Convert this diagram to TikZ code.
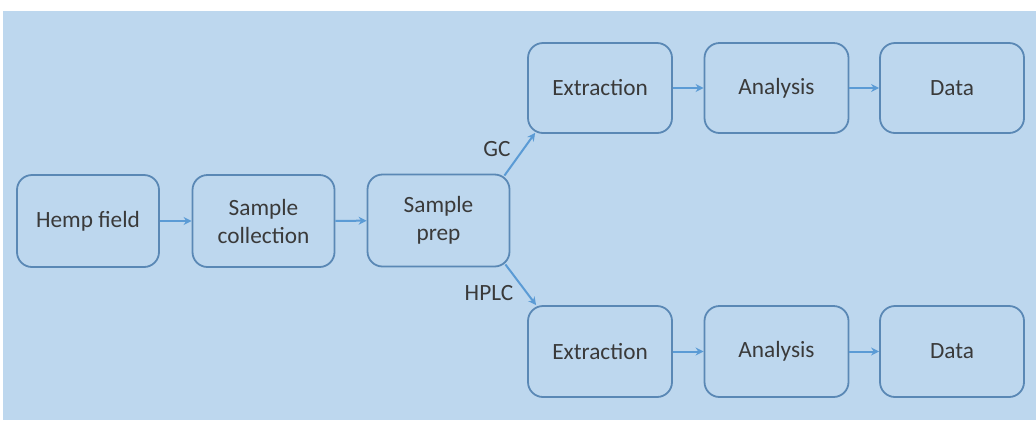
\documentclass[tikz,border=0pt]{standalone}
\usepackage{fontspec}
\setmainfont{Carlito}
\usetikzlibrary{arrows.meta}
\definecolor{bgblue}{HTML}{BDD7EE}
\definecolor{boxline}{HTML}{5A88B5}
\definecolor{arrowblue}{HTML}{5B9BD5}
\definecolor{txt}{HTML}{3A3A3A}
\begin{document}
\begin{tikzpicture}[x=0.5pt,y=-0.5pt,
  stepbox/.style={draw=boxline, line width=0.9pt, rounded corners=7.5pt, minimum width=71pt, minimum height=46pt, inner sep=0pt, align=center, text=txt, font=\fontsize{11.65pt}{14pt}\selectfont},
  flow/.style={draw=arrowblue, line width=1pt, -{Stealth[length=4pt,width=4pt]}},
  lbl/.style={text=txt, font=\fontsize{11.65pt}{14pt}\selectfont, inner sep=0pt}]
\useasboundingbox (0,0) rectangle (1036,420);
\fill[bgblue] (3,11) rectangle (1036,420);
\node[stepbox] (hemp) at (88,221) {Hemp field};
\node[stepbox] (coll) at (263.5,221) {Sample\\collection};
\node[stepbox] (prep) at (438.5,220.5) {Sample\\prep};
\node[stepbox, minimum width=72pt, minimum height=45pt] (ext1) at (600,88) {Extraction};
\node[stepbox, minimum width=72pt, minimum height=45pt] (ana1) at (776.5,88) {Analysis};
\node[stepbox, minimum width=72pt, minimum height=45pt] (data1) at (952,88) {Data};
\node[stepbox, minimum width=72pt, minimum height=45.5pt] (ext2) at (600,351.5) {Extraction};
\node[stepbox, minimum width=72pt, minimum height=45.5pt] (ana2) at (776.5,351.5) {Analysis};
\node[stepbox, minimum width=72pt, minimum height=45.5pt] (data2) at (952,351.5) {Data};
\draw[flow] (hemp) -- (coll);
\draw[flow] (coll) -- (prep);
\draw[flow] ([shift={(-6,2)}]prep.north east) -- ([shift={(8,-1)}]ext1.south west);
\draw[flow] ([shift={(-5,-3)}]prep.south east) -- ([shift={(9,0)}]ext2.north west);
\draw[flow] (ext1) -- (ana1);
\draw[flow] (ana1) -- (data1);
\draw[flow] (ext2) -- (ana2);
\draw[flow] (ana2) -- (data2);
\node[lbl] (gc) at (497,149) {GC};
\node[lbl] (hplc) at (489,293) {HPLC};
\end{tikzpicture}
\end{document}
